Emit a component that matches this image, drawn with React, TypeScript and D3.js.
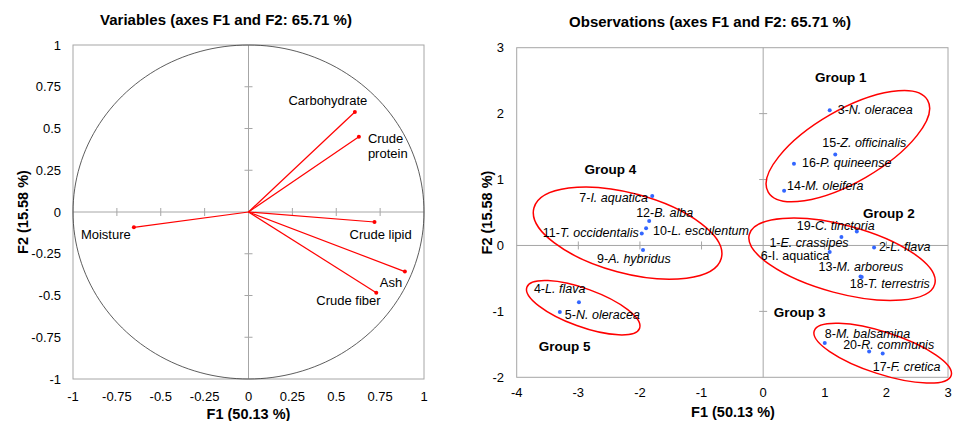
import React from "react";
import * as d3 from "d3";

// ---------- Variables (correlation circle) ----------
const varNames = ["Carbohydrate", "Crude protein", "Moisture", "Crude lipid", "Ash", "Crude fiber"];
const varF1 = [0.606, 0.629, -0.653, 0.718, 0.891, 0.728];
const varF2 = [0.599, 0.451, -0.092, -0.06, -0.357, -0.483];
const varTicks = [-1, -0.75, -0.5, -0.25, 0, 0.25, 0.5, 0.75, 1];

// ---------- Observations ----------
const obsPrefix = ["1-", "2-", "3-", "4-", "5-", "6-", "7-", "8-", "9-", "10-", "11-", "12-", "13-", "14-", "15-", "16-", "17-", "18-", "19-", "20-"];
const obsSpecies = ["E. crassipes", "L. flava", "N. oleracea", "L. flava", "N. oleracea", "I. aquatica", "I. aquatica", "M. balsamina", "A. hybridus", "L. esculentum", "T. occidentalis", "B. alba", "M. arboreus", "M. oleifera", "Z. officinalis", "P. quineense", "F. cretica", "T. terrestris", "C. tinctoria", "R. communis"];
const obsF1 = [1.27, 1.8, 1.08, -2.99, -3.3, 1.08, -1.8, 1.0, -1.95, -1.9, -1.97, -1.85, 1.58, 0.34, 1.17, 0.5, 1.94, 1.6, 1.52, 1.72];
const obsF2 = [0.13, -0.03, 2.05, -0.86, -1.01, -0.1, 0.75, -1.48, -0.07, 0.26, 0.18, 0.37, -0.47, 0.83, 1.38, 1.24, -1.64, -0.48, 0.21, -1.61];
const obsXTicks = [-4, -3, -2, -1, 0, 1, 2, 3];
const obsYTicks = [-2, -1, 0, 1, 2, 3];

// groups: centre in data units
const groupNames = ["Group 1", "Group 2", "Group 3", "Group 4", "Group 5"];
const groupCX = [1.375, 1.28, 1.94, -2.2, -2.92];
const groupCY = [1.507, -0.21, -1.634, 0.187, -0.944];

// ---------- layout / styling (not data) ----------
const W = 954, H = 421;
const FONT = "'Liberation Sans', Arial, Helvetica, sans-serif";
const L = { left: 73, right: 424, top: 45, bottom: 379 };
const R = { left: 516.7, right: 948, top: 47.7, bottom: 377.3 };

// label placement for variables (dx, dy from point, anchor)
const varLabelPos: [number, number, string][] = [
  [-27, -7, "middle"],
  [9, 6, "start"],
  [-53, 12, "start"],
  [-25, 17, "start"],
  [-25, 15, "start"],
  [-60, 12, "start"],
];
// label offsets for observations (dx, dy from point to text start/baseline)
const obsLabelOff: [number, number][] = [
  [-72, 10], [5, 4], [8, 4], [-45, -9], [5, 7], [-69, 8], [-73, 6], [0, -5],
  [-46, 13], [7, 7], [-99, 3], [-13, -4], [-42, -5], [3, -1], [-13, -7], [8, 3],
  [-10, 17], [-12, 11], [-60, -2], [-26, -3],
];
const obsUpright = [false, false, false, false, false, true, false, false, false, false, false, false, false, false, false, false, false, false, false, false];
// ellipses: radii in px, rotation in degrees
const groupEll: [number, number, number][] = [
  [92, 36, -30], [96, 34, 15], [72, 21, 18], [97, 40, 15], [60, 19, 20],
];
const groupLabelOff: [number, number][] = [
  [-33, -64], [21, -41], [-109, -36], [-43, -59], [-44.5, 43.5],
];

const GRID = "#a6a6a6";

export default function App() {
  const lx = d3.scaleLinear().domain([-1, 1]).range([L.left, L.right]);
  const ly = d3.scaleLinear().domain([-1, 1]).range([L.bottom, L.top]);
  const rx = d3.scaleLinear().domain([-4, 3]).range([R.left, R.right]);
  const ry = d3.scaleLinear().domain([-2, 3]).range([R.bottom, R.top]);

  const circlePts = d3.range(0, 361, 2).map((a) => [lx(Math.cos((a * Math.PI) / 180)), ly(Math.sin((a * Math.PI) / 180))] as [number, number]);
  const circlePath = d3.line()(circlePts) + "Z";

  return (
    <svg width={W} height={H} style={{ position: "absolute", left: 0, top: 0 }} fontFamily={FONT}>
      <rect width={W} height={H} fill="#fff" />
      {/* ================= LEFT PANEL ================= */}
      <text x={226} y={25} textAnchor="middle" fontSize={15} fontWeight="bold">Variables (axes F1 and F2: 65.71 %)</text>
      <rect x={L.left} y={L.top} width={L.right - L.left} height={L.bottom - L.top} fill="none" stroke={GRID} strokeWidth={1} />
      <line x1={L.left} x2={L.right} y1={ly(0)} y2={ly(0)} stroke={GRID} />
      <line x1={lx(0)} x2={lx(0)} y1={L.top} y2={L.bottom} stroke={GRID} />
      {varTicks.filter((t) => t !== 0 && Math.abs(t) !== 1).map((t) => (
        <g key={"lt" + t}>
          <line x1={lx(t)} x2={lx(t)} y1={ly(0) - 4} y2={ly(0) + 4} stroke={GRID} />
          <line x1={lx(0) - 4} x2={lx(0) + 4} y1={ly(t)} y2={ly(t)} stroke={GRID} />
        </g>
      ))}
      <path d={circlePath} fill="none" stroke="#333" strokeWidth={0.8} />
      {varTicks.map((t) => (
        <text key={"lxl" + t} x={lx(t)} y={400.5} textAnchor="middle" fontSize={13}>{String(t)}</text>
      ))}
      {varTicks.map((t) => (
        <text key={"lyl" + t} x={61} y={ly(t) + 4.5} textAnchor="end" fontSize={13}>{String(t)}</text>
      ))}
      <text x={lx(0)} y={419} textAnchor="middle" fontSize={14.5} fontWeight="bold">F1 (50.13 %)</text>
      <text transform={`translate(28,${(L.top + L.bottom) / 2}) rotate(-90)`} textAnchor="middle" fontSize={14.5} fontWeight="bold">F2 (15.58 %)</text>
      {varNames.map((n, i) => (
        <g key={n}>
          <line x1={lx(0)} y1={ly(0)} x2={lx(varF1[i])} y2={ly(varF2[i])} stroke="#ff0000" strokeWidth={1.2} />
          <circle cx={lx(varF1[i])} cy={ly(varF2[i])} r={2} fill="#ff0000" />
        </g>
      ))}
      {varNames.map((n, i) => {
        const [dx, dy, anchor] = varLabelPos[i];
        const x = lx(varF1[i]) + dx;
        const y = ly(varF2[i]) + dy;
        const parts = n === "Crude protein" ? ["Crude", "protein"] : [n];
        return (
          <text key={"vl" + n} x={x} y={y} textAnchor={anchor as any} fontSize={13}>
            {parts.map((p, k) => (
              <tspan key={k} x={x} dy={k === 0 ? 0 : 15}>{p}</tspan>
            ))}
          </text>
        );
      })}

      {/* ================= RIGHT PANEL ================= */}
      <text x={710} y={26.5} textAnchor="middle" fontSize={15} fontWeight="bold">Observations (axes F1 and F2: 65.71 %)</text>
      <rect x={R.left} y={R.top} width={R.right - R.left} height={R.bottom - R.top} fill="none" stroke={GRID} strokeWidth={1} />
      <line x1={R.left} x2={R.right} y1={ry(0)} y2={ry(0)} stroke={GRID} />
      <line x1={rx(0)} x2={rx(0)} y1={R.top} y2={R.bottom} stroke={GRID} />
      {obsXTicks.filter((t) => t !== 0 && t !== -4 && t !== 3).map((t) => (
        <line key={"rxt" + t} x1={rx(t)} x2={rx(t)} y1={ry(0) - 4} y2={ry(0) + 4} stroke={GRID} />
      ))}
      {obsYTicks.filter((t) => t !== 0 && t !== -2 && t !== 3).map((t) => (
        <line key={"ryt" + t} x1={rx(0) - 4} x2={rx(0) + 4} y1={ry(t)} y2={ry(t)} stroke={GRID} />
      ))}
      {obsXTicks.map((t) => (
        <text key={"rxl" + t} x={rx(t)} y={397} textAnchor="middle" fontSize={13}>{String(t)}</text>
      ))}
      {obsYTicks.map((t) => (
        <text key={"ryl" + t} x={504} y={ry(t) + 4.5} textAnchor="end" fontSize={13}>{String(t)}</text>
      ))}
      <text x={733} y={417} textAnchor="middle" fontSize={14.5} fontWeight="bold">F1 (50.13 %)</text>
      <text transform={`translate(492,${(R.top + R.bottom) / 2}) rotate(-90)`} textAnchor="middle" fontSize={14.5} fontWeight="bold">F2 (15.58 %)</text>

      {groupNames.map((g, i) => {
        const [a, b, rot] = groupEll[i];
        const cx = rx(groupCX[i]);
        const cy = ry(groupCY[i]);
        const [ox, oy] = groupLabelOff[i];
        return (
          <g key={g}>
            <ellipse cx={cx} cy={cy} rx={a} ry={b} transform={`rotate(${rot},${cx},${cy})`} fill="none" stroke="#ff0000" strokeWidth={1.5} />
            <text x={cx + ox} y={cy + oy} fontSize={13.5} fontWeight="bold">{g}</text>
          </g>
        );
      })}
      {obsPrefix.map((p, i) => (
        <circle key={"pt" + i} cx={rx(obsF1[i])} cy={ry(obsF2[i])} r={2} fill="#3366ff" />
      ))}
      {obsPrefix.map((p, i) => {
        const [dx, dy] = obsLabelOff[i];
        return (
          <text key={"ol" + i} x={rx(obsF1[i]) + dx} y={ry(obsF2[i]) + dy} fontSize={12.5}>
            <tspan>{p}</tspan>
            <tspan fontStyle={obsUpright[i] ? "normal" : "italic"}>{obsSpecies[i]}</tspan>
          </text>
        );
      })}
    </svg>
  );
}
